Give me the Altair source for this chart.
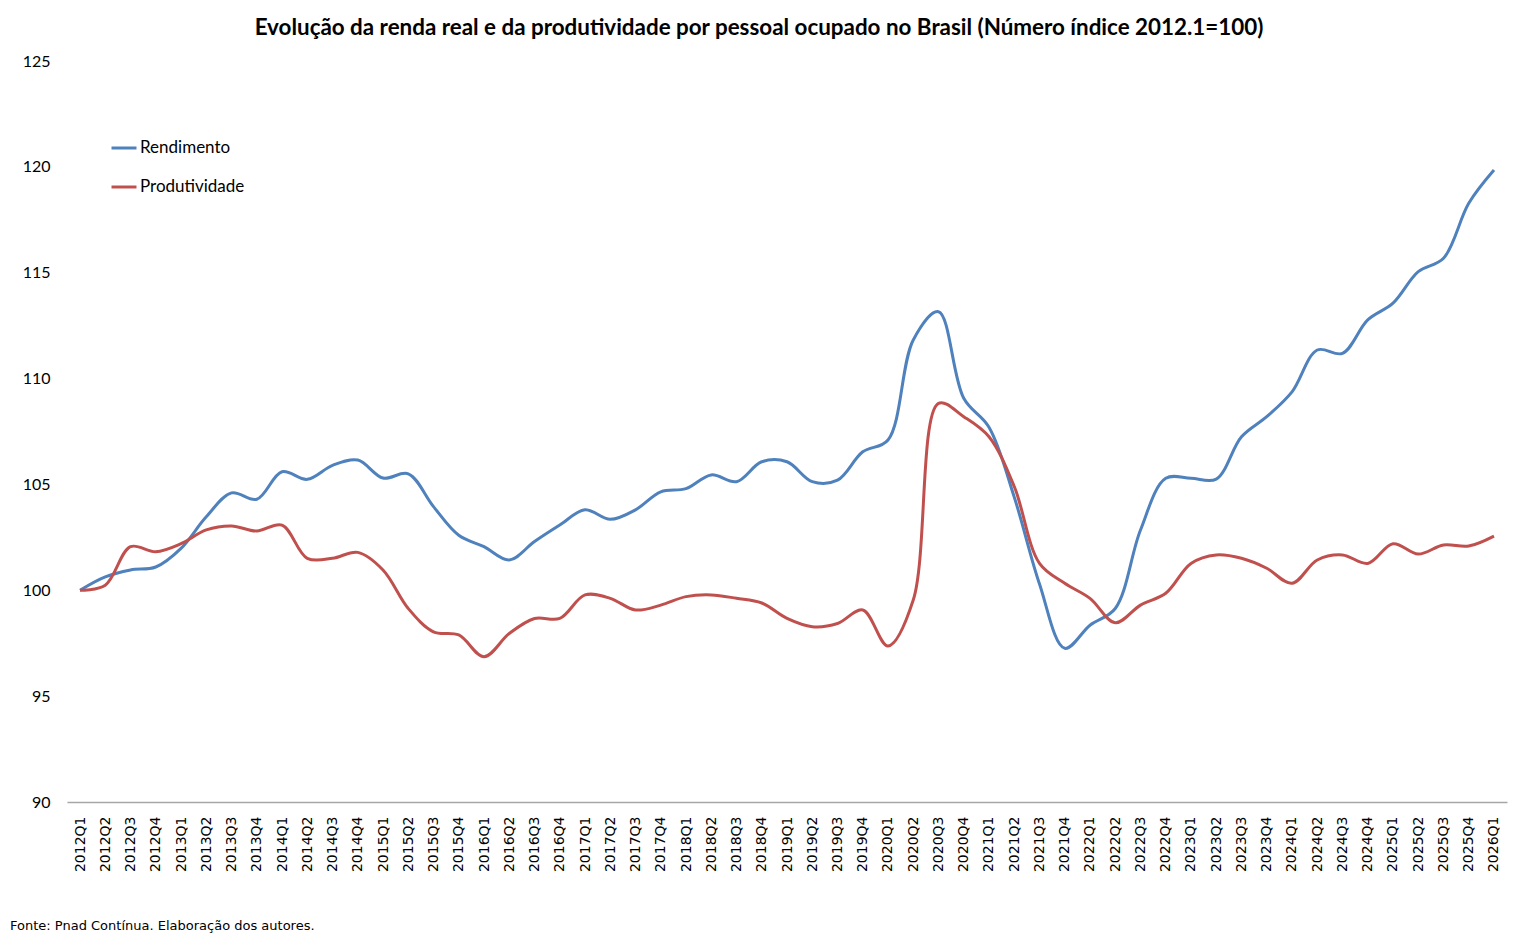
import altair as alt
import pandas as pd

quarters = [f"{y}Q{q}" for y in range(2012, 2026) for q in range(1, 5)] + ["2026Q1"]

rendimento = [
    100.0, 100.63, 100.96, 101.1, 101.98, 103.47, 104.6, 104.3, 105.6, 105.24,
    105.9, 106.15, 105.3, 105.5, 103.95, 102.6, 102.06, 101.43, 102.3, 103.08,
    103.8, 103.35, 103.8, 104.65, 104.8, 105.45, 105.13, 106.07, 106.07, 105.13,
    105.2, 106.54, 107.1, 111.82, 113.16, 109.07, 107.7, 104.4, 100.3, 97.26,
    98.35, 99.14, 102.85, 105.29, 105.29, 105.25, 107.25, 108.2, 109.37, 111.35,
    111.19, 112.77, 113.56, 115.05, 115.68, 118.28, 119.85,
]

produtividade = [
    100.0, 100.24, 102.06, 101.82, 102.2, 102.85, 103.04, 102.8, 103.08, 101.51,
    101.51, 101.79, 100.96, 99.14, 98.04, 97.89, 96.86, 97.96, 98.67, 98.67,
    99.78, 99.62, 99.07, 99.3, 99.7, 99.78, 99.62, 99.4, 98.67, 98.28,
    98.43, 99.07, 97.37, 99.54, 108.83, 108.2, 107.25, 104.9, 101.27, 100.33,
    99.62, 98.47, 99.3, 99.86, 101.27, 101.67, 101.51, 101.04, 100.33, 101.43,
    101.67, 101.27, 102.2, 101.71, 102.14, 102.09, 102.56,
]

series_names = ["Rendimento", "Produtividade"]
series_colors = ["#4F81BD", "#C0504D"]

title_text = "Evolução da renda real e da produtividade por pessoal ocupado no Brasil (Número índice 2012.1=100)"
footer_text = "Fonte: Pnad Contínua. Elaboração dos autores."

df = pd.DataFrame({
    "trimestre": quarters * 2,
    "serie": [series_names[0]] * len(quarters) + [series_names[1]] * len(quarters),
    "valor": rendimento + produtividade,
})

lines = (
    alt.Chart(df)
    .mark_line(strokeWidth=3, interpolate="catmull-rom")
    .encode(
        x=alt.X(
            "trimestre:N",
            sort=quarters,
            title=None,
            scale=alt.Scale(type="point", padding=0.515),
            axis=alt.Axis(
                labelAngle=-90,
                labelFont="DejaVu Sans",
                labelFontSize=14,
                labelColor="#000000",
                labelPadding=14,
                ticks=False,
                domainColor="#A6A6A6",
                domainWidth=1.5,
                grid=False,
            ),
        ),
        y=alt.Y(
            "valor:Q",
            title=None,
            scale=alt.Scale(domain=[90, 125], nice=False, zero=False),
            axis=alt.Axis(
                values=[90, 95, 100, 105, 110, 115, 120, 125],
                labelFont="Lato",
                labelFontSize=16,
                labelColor="#000000",
                labelPadding=17,
                ticks=False,
                domain=False,
                grid=False,
            ),
        ),
        color=alt.Color(
            "serie:N",
            sort=series_names,
            scale=alt.Scale(domain=series_names, range=series_colors),
            legend=alt.Legend(
                title=None,
                orient="none",
                legendX=43,
                legendY=73,
                symbolType="stroke",
                symbolSize=625,
                symbolStrokeWidth=3,
                labelFont="Lato",
                labelFontSize=17,
                labelColor="#000000",
                labelOffset=2,
                rowPadding=17,
            ),
        ),
    )
)

footer = (
    alt.Chart(pd.DataFrame({"t": [footer_text]}))
    .mark_text(align="left", baseline="middle", font="DejaVu Sans", fontSize=13, color="#000000")
    .encode(x=alt.value(-57), y=alt.value(865), text="t:N")
)

chart = (
    alt.layer(lines, footer)
    .properties(
        width=1440,
        height=741,
        padding={"left": 59, "top": 53, "right": 4, "bottom": 140},
        autosize=alt.AutoSizeParams(type="none"),
        background="#FFFFFF",
        title=alt.TitleParams(
            text=title_text,
            font="Lato",
            fontSize=22.4,
            fontWeight="bold",
            color="#000000",
            anchor="middle",
            dx=-28,
            offset=14,
        ),
    )
    .configure_view(stroke=None, strokeWidth=0)
)

chart.save("out.html", embed_options={"renderer": "svg", "actions": False})
